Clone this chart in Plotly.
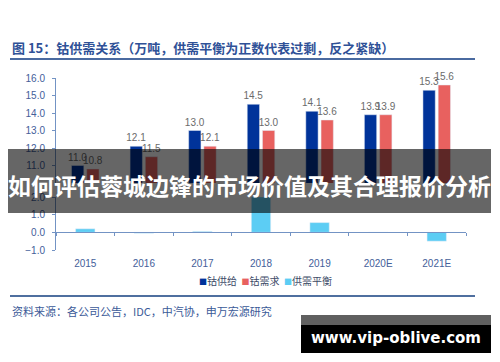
import plotly.graph_objects as go

# ---------------- data ----------------
years = ["2015", "2016", "2017", "2018", "2019", "2020E", "2021E"]
supply = [11.0, 12.1, 13.0, 14.5, 14.1, 13.9, 15.3]
demand = [10.8, 11.5, 12.1, 13.0, 13.6, 13.9, 15.6]
balance = [0.2, -0.05, 0.05, 2.0, 0.55, 0.0, -0.5]

series_names = ["钴供给", "钴需求", "供需平衡"]
upper_ticks = [11, 12, 13, 14, 15, 16]
lower_ticks = [-1, 0, 1, 2]

# ---------------- layout geometry ----------------
W, H = 500, 362
ML, MR, MT, MB = 56, 34, 78, 112
PW, PH = W - ML - MR, H - MT - MB


def px2x(px):
    return (px - ML) / PW


def px2y(py):
    return 1 - (py - MT) / PH


up_dom = [px2y(183), 1.0]
low_dom = [0.0, px2y(197)]
up_rng = [10, 16]
low_rng = [-1, 2]
zero_pos = low_dom[0] + (0 - low_rng[0]) / (low_rng[1] - low_rng[0]) * (low_dom[1] - low_dom[0])

C_SUP = "#00339a"
C_DEM = "#e8615f"
C_BAL = "#5ccdf4"
colors = [C_SUP, C_DEM, C_BAL]
AXC = "#7393c4"
TXC = "#44609a"
FONT = "Liberation Sans, Noto Sans CJK SC, sans-serif"
CJK = "Noto Sans CJK SC, sans-serif"

fig = go.Figure()

fig.add_trace(go.Bar(
    x=years, y=supply, name=series_names[0], marker_color=C_SUP,
    width=0.21, offset=-0.235,
    text=[f"{v:.1f}" for v in supply], textposition="outside",
    textfont=dict(size=10, color="#6b6b6b", family=FONT),
    constraintext="none", cliponaxis=False, showlegend=False,
    xaxis="x", yaxis="y"))
fig.add_trace(go.Bar(
    x=years, y=demand, name=series_names[1], marker_color=C_DEM,
    width=0.21, offset=0.025,
    text=[f"{v:.1f}" for v in demand], textposition="outside",
    textfont=dict(size=10, color="#6b6b6b", family=FONT),
    constraintext="none", cliponaxis=False, showlegend=False,
    xaxis="x", yaxis="y"))
fig.add_trace(go.Bar(
    x=years, y=balance, name=series_names[2], marker_color=C_BAL,
    width=0.33, showlegend=False,
    xaxis="x2", yaxis="y2"))

fig.update_layout(
    width=W, height=H,
    margin=dict(l=ML, r=MR, t=MT, b=MB),
    paper_bgcolor="white", plot_bgcolor="white",
    font=dict(family=FONT, size=10, color=TXC),
    barmode="overlay",
    showlegend=False,
    xaxis=dict(domain=[0, 1], anchor="y", visible=False,
               type="category", categoryorder="array", categoryarray=years,
               range=[-0.5, len(years) - 0.5]),
    yaxis=dict(domain=up_dom, anchor="x", range=up_rng, tickvals=upper_ticks,
               tickformat=".1f", showgrid=False, zeroline=False,
               showline=True, linecolor=AXC, linewidth=1,
               ticks="outside", ticklen=3, tickcolor=AXC,
               ticklabelstandoff=5,
               tickfont=dict(size=10, color=TXC)),
    xaxis2=dict(domain=[0, 1], anchor="free", position=zero_pos,
                type="category", categoryorder="array", categoryarray=years,
                range=[-0.5, len(years) - 0.5],
                showline=True, linecolor=AXC, linewidth=1,
                ticks="outside", ticklen=3, tickcolor=AXC, tickson="boundaries",
                ticklabelstandoff=22, showgrid=False,
                tickfont=dict(size=10, color=TXC)),
    yaxis2=dict(domain=low_dom, anchor="x2", range=low_rng, tickvals=lower_ticks,
                tickformat=".1f", showgrid=False, zeroline=False,
                showline=True, linecolor=AXC, linewidth=1,
                ticks="outside", ticklen=3, tickcolor=AXC,
                ticklabelstandoff=5,
                tickfont=dict(size=10, color=TXC)),
)

shapes = [
    # title underline
    dict(type="line", xref="paper", yref="paper",
         x0=px2x(10), x1=px2x(475), y0=px2y(59), y1=px2y(59),
         line=dict(color="#4a6aa0", width=2)),
    # bottom rule
    dict(type="line", xref="paper", yref="paper",
         x0=px2x(10), x1=px2x(475), y0=px2y(296), y1=px2y(296),
         line=dict(color="#4f6f9f", width=2)),
    # banner overlay
    dict(type="rect", xref="paper", yref="paper",
         x0=px2x(8), x1=px2x(491), y0=px2y(213), y1=px2y(149),
         fillcolor="rgba(0,0,0,0.6)", line=dict(width=0), layer="above"),
    # watermark boxes
    dict(type="rect", xref="paper", yref="paper",
         x0=px2x(301), x1=px2x(491), y0=px2y(325), y1=px2y(315),
         fillcolor="#606060", line=dict(width=0), layer="above"),
    dict(type="rect", xref="paper", yref="paper",
         x0=px2x(301), x1=px2x(491), y0=px2y(353), y1=px2y(325),
         fillcolor="#000000", line=dict(width=0), layer="above"),
]
fig.update_layout(shapes=shapes)

legend_text = "  ".join(
    f'<span style="color:{c};font-size:8px">■</span>{n}'
    for n, c in zip(series_names, colors))

annotations = [
    dict(text="<b>图 15：钴供需关系（万吨，供需平衡为正数代表过剩，反之紧缺）</b>",
         xref="paper", yref="paper", x=px2x(10), y=px2y(48),
         xanchor="left", yanchor="middle", showarrow=False,
         font=dict(family=CJK, size=13, color="#2f5197")),
    dict(text=legend_text,
         xref="paper", yref="paper", x=px2x(265), y=px2y(280),
         xanchor="center", yanchor="middle", showarrow=False,
         font=dict(family=CJK, size=10, color="#3c4a66")),
    dict(text="资料来源：各公司公告，IDC，中汽协，申万宏源研究",
         xref="paper", yref="paper", x=px2x(10), y=px2y(311),
         xanchor="left", yanchor="middle", showarrow=False,
         font=dict(family=CJK, size=11, color="#3b5a98")),
    dict(text="<b>如何评估蓉城边锋的市场价值及其合理报价分析</b>",
         xref="paper", yref="paper", x=px2x(249.5), y=px2y(185),
         xanchor="center", yanchor="middle", showarrow=False,
         font=dict(family=CJK, size=23, color="white")),
    dict(text="<b>www.vip-oblive.com</b>",
         xref="paper", yref="paper", x=px2x(396), y=px2y(338),
         xanchor="center", yanchor="middle", showarrow=False,
         font=dict(family="DejaVu Sans, sans-serif", size=15, color="white")),
]
fig.update_layout(annotations=annotations)

fig.write_html("out.html",
               config={"displayModeBar": False},
               post_script="document.body.style.margin='0px';document.body.style.overflow='hidden';")
